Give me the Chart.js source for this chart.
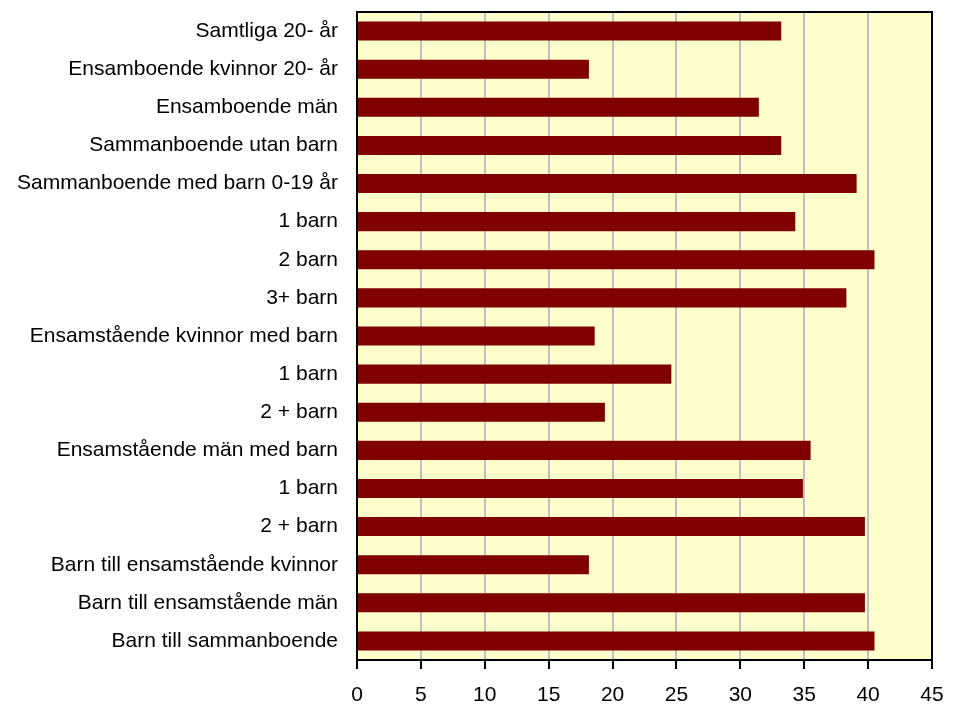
<!DOCTYPE html>
<html>
<head>
<meta charset="utf-8">
<script src="https://cdn.jsdelivr.net/npm/chart.js@4/dist/chart.umd.min.js"></script>
<style>
  html, body { margin: 0; padding: 0; background: #fff; }
  #wrap { width: 954px; height: 705px; }
</style>
</head>
<body>
<div id="wrap"><canvas id="chart" width="954" height="705"></canvas></div>
<script>
var categories = [
  'Samtliga 20- år',
  'Ensamboende kvinnor 20- år',
  'Ensamboende män',
  'Sammanboende utan barn',
  'Sammanboende med barn 0-19 år',
  '1 barn',
  '2 barn',
  '3+ barn',
  'Ensamstående kvinnor med barn',
  '1 barn',
  '2 + barn',
  'Ensamstående män med barn',
  '1 barn',
  '2 + barn',
  'Barn till ensamstående kvinnor',
  'Barn till ensamstående män',
  'Barn till sammanboende'
];
var values = [33.2, 18.15, 31.45, 33.2, 39.1, 34.3, 40.5, 38.3, 18.6, 24.6, 19.4, 35.5, 34.9, 39.75, 18.15, 39.75, 40.5];
var xTicks = [0, 5, 10, 15, 20, 25, 30, 35, 40, 45];

//--------------- plot area background and frame ---------------//
var plotArea = {
  id: 'plotArea',
  beforeDraw: function(chart) {
    var a = chart.chartArea, ctx = chart.ctx;
    ctx.save();
    ctx.fillStyle = '#FFFFCC';
    ctx.fillRect(a.left, a.top, a.right - a.left, a.bottom - a.top);
    ctx.restore();
  },
  afterDraw: function(chart) {
    var a = chart.chartArea, ctx = chart.ctx;
    ctx.save();
    ctx.strokeStyle = '#000';
    ctx.lineWidth = 2;
    ctx.strokeRect(a.left, a.top, a.right - a.left, a.bottom - a.top);
    ctx.restore();
  }
};

Chart.defaults.font.family = '"Liberation Sans", Arial, sans-serif';
Chart.defaults.font.size = 21;
Chart.defaults.color = '#000';

new Chart(document.getElementById('chart'), {
  type: 'bar',
  data: {
    labels: categories,
    datasets: [{
      data: values,
      backgroundColor: '#800000',
      borderWidth: 0,
      categoryPercentage: 1,
      barPercentage: 0.5
    }]
  },
  options: {
    indexAxis: 'y',
    responsive: false,
    animation: false,
    layout: { padding: { top: 12, right: 22, left: 0, bottom: 0 } },
    plugins: { legend: { display: false }, tooltip: { enabled: false } },
    scales: {
      x: {
        min: 0,
        max: 45,
        afterBuildTicks: function(scale) {
          scale.ticks = xTicks.map(function(v) { return { value: v }; });
        },
        afterFit: function(scale) {
          scale.height = 45;
          scale.paddingLeft = 0;
          scale.paddingRight = 0;
        },
        grid: {
          color: '#C0C0C0',
          lineWidth: 2,
          tickColor: '#000',
          tickLength: 9,
          drawOnChartArea: true
        },
        border: { display: true, color: '#000', width: 2 },
        ticks: { padding: 14, maxRotation: 0 }
      },
      y: {
        afterFit: function(scale) {
          scale.width = 357;
          scale.paddingTop = 0;
          scale.paddingBottom = 0;
        },
        grid: { display: false },
        border: { display: true, color: '#000', width: 2 },
        ticks: { padding: 11, autoSkip: false }
      }
    }
  },
  plugins: [plotArea]
});
</script>
</body>
</html>
